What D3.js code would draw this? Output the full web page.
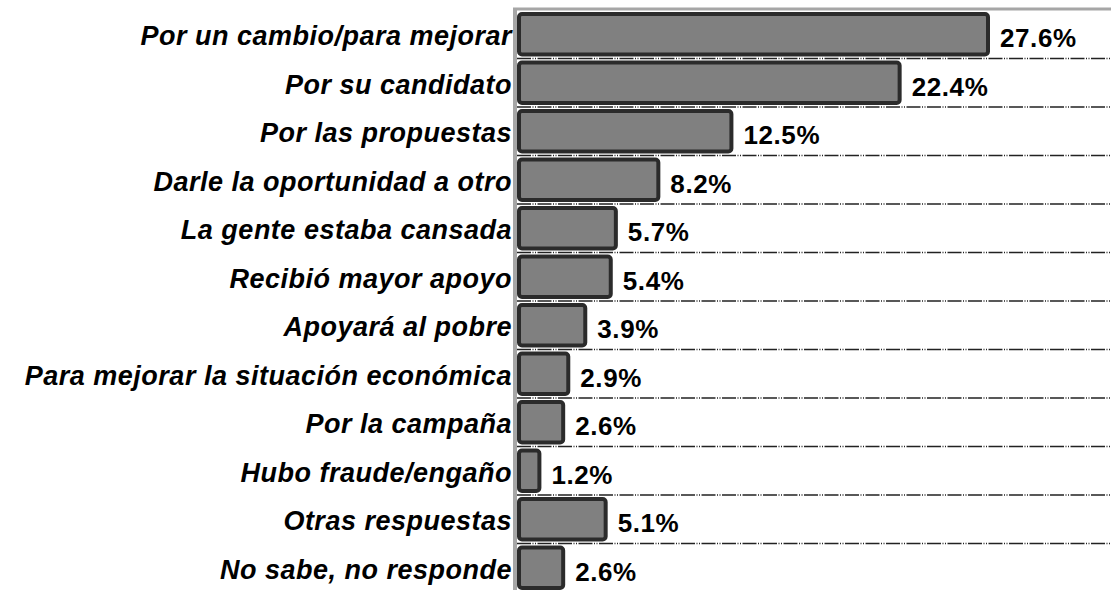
<!DOCTYPE html>
<html>
<head>
<meta charset="utf-8">
<script src="https://cdn.jsdelivr.net/npm/d3@7"></script>
<style>
  body { margin: 0; background: #fff; }
  svg { display: block; }
</style>
</head>
<body>
<div id="chart"></div>
<script>

var categories = [
    "Por un cambio/para mejorar",
    "Por su candidato",
    "Por las propuestas",
    "Darle la oportunidad a otro",
    "La gente estaba cansada",
    "Recibió mayor apoyo",
    "Apoyará al pobre",
    "Para mejorar la situación económica",
    "Por la campaña",
    "Hubo fraude/engaño",
    "Otras respuestas",
    "No sabe, no responde"
];

var values = [27.6, 22.4, 12.5, 8.2, 5.7, 5.4, 3.9, 2.9, 2.6, 1.2, 5.1, 2.6];

var valueLabels = ["27.6%", "22.4%", "12.5%", "8.2%", "5.7%", "5.4%", "3.9%", "2.9%", "2.6%", "1.2%", "5.1%", "2.6%"];

var W = 1111, H = 590;
var axisX = 515;

var svg = d3.select("#chart")
    .append("svg")
    .attr("width", W)
    .attr("height", H);

var x = d3.scaleLinear()
    .domain([0, 27.6])
    .range([axisX + 4, 988]);

var y = d3.scaleBand()
    .domain(categories)
    .range([10, 592])
    .paddingInner(0.17)
    .paddingOuter(0.085);

var step = y.step();

// separators between rows
svg.append("g")
    .selectAll("line")
    .data(categories.slice(0, -1))
    .enter()
    .append("line")
    .attr("x1", axisX + 2)
    .attr("x2", W)
    .attr("y1", function(d){ return y(d) - y.paddingOuter() * step + step; })
    .attr("y2", function(d){ return y(d) - y.paddingOuter() * step + step; })
    .style("stroke", "#222")
    .style("stroke-width", 1.3)
    .style("stroke-dasharray", "14,1.5,1,1.5,1,1.5");

// top gray line and axis
svg.append("line")
    .attr("x1", axisX - 2).attr("x2", W)
    .attr("y1", 9).attr("y2", 9)
    .style("stroke", "#a6a6a6")
    .style("stroke-width", 3);

svg.append("line")
    .attr("x1", axisX).attr("x2", axisX)
    .attr("y1", 8).attr("y2", H)
    .style("stroke", "#a6a6a6")
    .style("stroke-width", 4);

// bars
svg.append("g")
    .selectAll("rect")
    .data(values)
    .enter()
    .append("rect")
    .attr("x", x(0))
    .attr("y", function(d, i){ return y(categories[i]); })
    .attr("width", function(d){ return x(d) - x(0); })
    .attr("height", y.bandwidth())
    .attr("rx", 3)
    .style("fill", "#808080")
    .style("stroke", "#2b2b2b")
    .style("stroke-width", 4);

// value labels
svg.append("g")
    .selectAll("text")
    .data(values)
    .enter()
    .append("text")
    .attr("x", function(d){ return x(d) + 12; })
    .attr("y", function(d, i){ return y(categories[i]) + y.bandwidth() / 2 + 13; })
    .style("font-family", "Liberation Sans, Arial, sans-serif")
    .style("font-weight", "bold")
    .style("font-size", "26px")
    .style("letter-spacing", "0.6px")
    .style("fill", "#000")
    .text(function(d, i){ return valueLabels[i]; });

// category labels
svg.append("g")
    .selectAll("text")
    .data(categories)
    .enter()
    .append("text")
    .attr("x", axisX - 3)
    .attr("y", function(d){ return y(d) + y.bandwidth() / 2 + 11; })
    .attr("text-anchor", "end")
    .style("font-family", "Liberation Sans, Arial, sans-serif")
    .style("font-weight", "bold")
    .style("font-style", "italic")
    .style("font-size", "27px")
    .style("letter-spacing", "0.5px")
    .style("fill", "#000")
    .text(function(d){ return d; });

</script>
</body>
</html>
